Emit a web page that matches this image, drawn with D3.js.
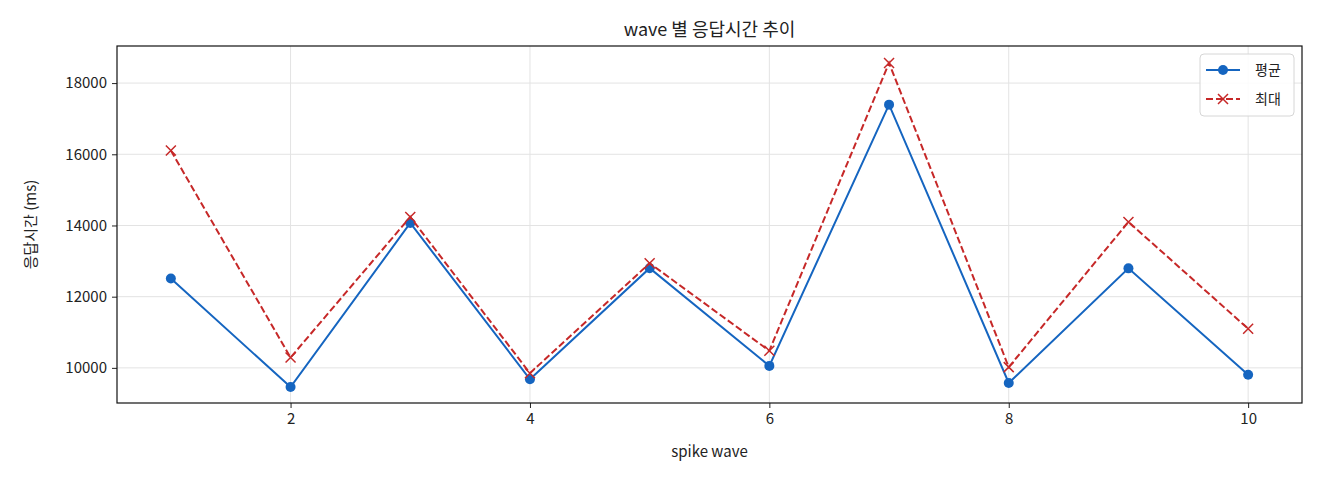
<!DOCTYPE html>
<html>
<head>
<meta charset="utf-8">
<script src="https://cdn.jsdelivr.net/npm/d3@7"></script>
<style>
  body { margin: 0; background: #fff; }
  text { font-family: "Noto Sans CJK KR", "Noto Sans", sans-serif; fill: #222; }
</style>
</head>
<body>
<script>
// data
var waves = [1, 2, 3, 4, 5, 6, 7, 8, 9, 10];
var avgMs = [12510, 9460, 14070, 9680, 12800, 10055, 17395, 9575, 12795, 9805];
var maxMs = [16105, 10290, 14240, 9850, 12940, 10480, 18565, 10020, 14100, 11100];
var xTicks = [2, 4, 6, 8, 10];
var yTicks = [10000, 12000, 14000, 16000, 18000];
var seriesNames = ["평균", "최대"];

var width = 1320, height = 480;
var plotL = 117, plotR = 1302, plotT = 46, plotB = 403;

var svg = d3.select("body").append("svg")
    .attr("width", width)
    .attr("height", height);

var x = d3.scaleLinear().domain([0.55, 10.45]).range([plotL, plotR]);
var y = d3.scaleLinear().domain([9013, 19042]).range([plotB, plotT]);

// grid
svg.append("g").selectAll("line.gx")
    .data(xTicks).enter().append("line")
    .attr("x1", d => x(d)).attr("x2", d => x(d))
    .attr("y1", plotT).attr("y2", plotB)
    .attr("stroke", "#e3e3e3").attr("stroke-width", 1);
svg.append("g").selectAll("line.gy")
    .data(yTicks).enter().append("line")
    .attr("x1", plotL).attr("x2", plotR)
    .attr("y1", d => y(d)).attr("y2", d => y(d))
    .attr("stroke", "#e3e3e3").attr("stroke-width", 1);

// axes
var xAxis = svg.append("g")
    .attr("transform", "translate(0," + plotB + ")")
    .call(d3.axisBottom(x).tickValues(xTicks).tickSize(5).tickPadding(5));
var yAxis = svg.append("g")
    .attr("transform", "translate(" + plotL + ",0)")
    .call(d3.axisLeft(y).tickValues(yTicks).tickSize(5).tickPadding(5).tickFormat(d3.format("d")));
[xAxis, yAxis].forEach(function(a) {
  a.select(".domain").remove();
  a.selectAll("line").attr("stroke", "#222");
  a.selectAll("text").style("font-size", "15px").attr("fill", "#222");
});

// frame
svg.append("rect")
    .attr("x", plotL).attr("y", plotT)
    .attr("width", plotR - plotL).attr("height", plotB - plotT)
    .attr("fill", "none").attr("stroke", "#111").attr("stroke-width", 1.2);

var line = d3.line().x((d, i) => x(waves[i])).y(d => y(d));

var blue = "#1565c0", red = "#c62828";

// avg series
svg.append("path").datum(avgMs)
    .attr("d", line).attr("fill", "none")
    .attr("stroke", blue).attr("stroke-width", 2);
svg.append("g").selectAll("circle")
    .data(avgMs).enter().append("circle")
    .attr("cx", (d, i) => x(waves[i])).attr("cy", d => y(d))
    .attr("r", 5).attr("fill", blue);

// max series
svg.append("path").datum(maxMs)
    .attr("d", line).attr("fill", "none")
    .attr("stroke", red).attr("stroke-width", 2)
    .attr("stroke-dasharray", "7,3");
svg.append("g").selectAll("path.mx")
    .data(maxMs).enter().append("path")
    .attr("transform", (d, i) => "translate(" + x(waves[i]) + "," + y(d) + ")")
    .attr("d", "M-5,-5L5,5M-5,5L5,-5")
    .attr("stroke", red).attr("stroke-width", 1.5).attr("fill", "none");

// title and labels
svg.append("text")
    .attr("x", (plotL + plotR) / 2).attr("y", 36)
    .attr("text-anchor", "middle").style("font-size", "18px")
    .text("wave 별 응답시간 추이");
svg.append("text")
    .attr("x", (plotL + plotR) / 2).attr("y", 457)
    .attr("text-anchor", "middle").style("font-size", "15px")
    .text("spike wave");
svg.append("text")
    .attr("transform", "translate(36," + ((plotT + plotB) / 2) + ") rotate(-90)")
    .attr("text-anchor", "middle").style("font-size", "15px")
    .text("응답시간 (ms)");

// legend
var lg = svg.append("g").attr("transform", "translate(1200,54)");
lg.append("rect")
    .attr("width", 94).attr("height", 62).attr("rx", 4)
    .attr("fill", "#fff").attr("fill-opacity", 0.85)
    .attr("stroke", "#d6d6d6");
var items = lg.selectAll("g.item")
    .data(seriesNames).enter().append("g")
    .attr("transform", (d, i) => "translate(0," + (16 + i * 29) + ")");
items.append("line")
    .attr("x1", 6).attr("x2", 40)
    .attr("stroke", (d, i) => i === 0 ? blue : red)
    .attr("stroke-width", 2)
    .attr("stroke-dasharray", (d, i) => i === 0 ? null : "7,3");
items.filter((d, i) => i === 0).append("circle")
    .attr("cx", 23).attr("r", 5).attr("fill", blue);
items.filter((d, i) => i === 1).append("path")
    .attr("transform", "translate(23,0)")
    .attr("d", "M-5,-5L5,5M-5,5L5,-5")
    .attr("stroke", red).attr("stroke-width", 1.5);
items.append("text")
    .attr("x", 55).attr("y", 5)
    .style("font-size", "14px")
    .text(d => d);
</script>
</body>
</html>
